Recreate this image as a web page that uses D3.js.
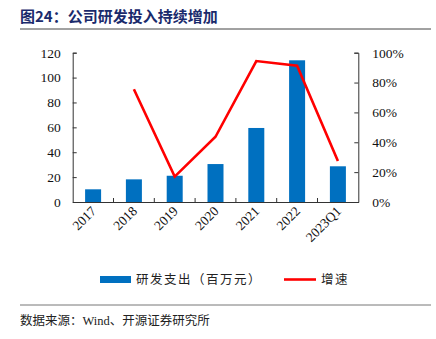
<!DOCTYPE html>
<html><head><meta charset="utf-8">
<script src="https://cdn.jsdelivr.net/npm/d3@7"></script>
<style>body{margin:0;background:#fff;}svg{display:block;}</style>
</head><body>
<script>
const categories = ["2017","2018","2019","2020","2021","2022","2023Q1"];
const rdSpend = [10.2, 18.2, 21.1, 30.5, 59.5, 113.9, 28.7];
const growth = [null, 75.5, 17.0, 43.7, 94.4, 91.3, 27.5];
const leftTicks = [0,20,40,60,80,100,120];
const rightTicks = [0,20,40,60,80,100];

const W=436,H=339;
const svg=d3.select("body").append("svg").attr("width",W).attr("height",H);
const serif="'Liberation Serif','Times New Roman',serif";
const cjk="'Noto Sans CJK SC',sans-serif";

// title
svg.append("text").attr("x",20).attr("y",22).attr("font-family",cjk).attr("font-weight","bold")
  .attr("font-size",15).attr("fill","#1a2a6c").text("图24：公司研发投入持续增加");
svg.append("line").attr("x1",20).attr("x2",431).attr("y1",29).attr("y2",29).attr("stroke","#444").attr("stroke-width",1);

const x0=72.7,x1=358.3,yB=202,yT=52.7;
const x=d3.scaleBand().domain(categories).range([x0,x1]);
const yL=d3.scaleLinear().domain([0,120]).range([yB,yT]);
const yR=d3.scaleLinear().domain([0,100]).range([yB,yT]);

// bars
svg.selectAll("rect.bar").data(categories).enter().append("rect")
  .attr("x",d=>x(d)+x.bandwidth()/2-8).attr("width",16)
  .attr("y",(d,i)=>yL(rdSpend[i])).attr("height",(d,i)=>yB-yL(rdSpend[i]))
  .attr("fill","#0070C0");

// axes
const gL=svg.append("g").attr("transform",`translate(${x0},0)`)
  .call(d3.axisLeft(yL).tickValues(leftTicks).tickSize(-4).tickPadding(12));
const gR=svg.append("g").attr("transform",`translate(${x1},0)`)
  .call(d3.axisRight(yR).tickValues(rightTicks).tickSize(-4).tickPadding(14).tickFormat(d=>d+"%"));
const gB=svg.append("g").attr("transform",`translate(0,${yB})`)
  .call(d3.axisBottom(x).tickSize(0).tickFormat(""));
gB.selectAll(".domain").attr("stroke","#333");
// between-category ticks
const bounds=categories.slice(1).map(c=>x(c));
svg.selectAll("line.bt").data(bounds).enter().append("line")
  .attr("x1",d=>d).attr("x2",d=>d).attr("y1",yB).attr("y2",yB-4).attr("stroke","#333");
[gL,gR].forEach(g=>{
  g.selectAll(".domain").attr("stroke","#333");
  g.selectAll(".tick line").attr("stroke","#333");
  g.selectAll("text").attr("font-family",serif).attr("font-size",13.5).attr("fill","#111");
});

// x labels
svg.selectAll("text.xl").data(categories).enter().append("text")
  .attr("transform",d=>`translate(${x(d)+x.bandwidth()/2+4},${yB+10}) rotate(-45)`)
  .attr("text-anchor","end").attr("font-family",serif).attr("font-size",13.5).attr("fill","#111")
  .text(d=>d);

// growth line
const line=d3.line().defined(d=>d[1]!=null).x(d=>x(d[0])+x.bandwidth()/2).y(d=>yR(d[1]));
svg.append("path").datum(categories.map((c,i)=>[c,growth[i]]))
  .attr("d",line).attr("fill","none").attr("stroke","#FF0000").attr("stroke-width",2.6);

// legend
svg.append("rect").attr("x",100).attr("y",276).attr("width",31).attr("height",7).attr("fill","#0070C0");
svg.append("text").attr("x",136).attr("y",284).attr("font-family",cjk).attr("font-size",12.5).attr("fill","#222")
  .attr("letter-spacing",1.5).text("研发支出（百万元）");
svg.append("line").attr("x1",284).attr("x2",316).attr("y1",279.5).attr("y2",279.5).attr("stroke","#FF0000").attr("stroke-width",2.6);
svg.append("text").attr("x",321).attr("y",284).attr("font-family",cjk).attr("font-size",12.5).attr("fill","#222")
  .attr("letter-spacing",1.5).text("增速");

// footer
svg.append("line").attr("x1",20).attr("x2",431).attr("y1",305).attr("y2",305).attr("stroke","#777").attr("stroke-width",1);
svg.append("text").attr("x",20).attr("y",325).attr("font-family","'Liberation Serif','Noto Sans CJK SC',serif").attr("font-size",12.5).attr("fill","#222")
  .text("数据来源：Wind、开源证券研究所");
</script>
</body></html>
